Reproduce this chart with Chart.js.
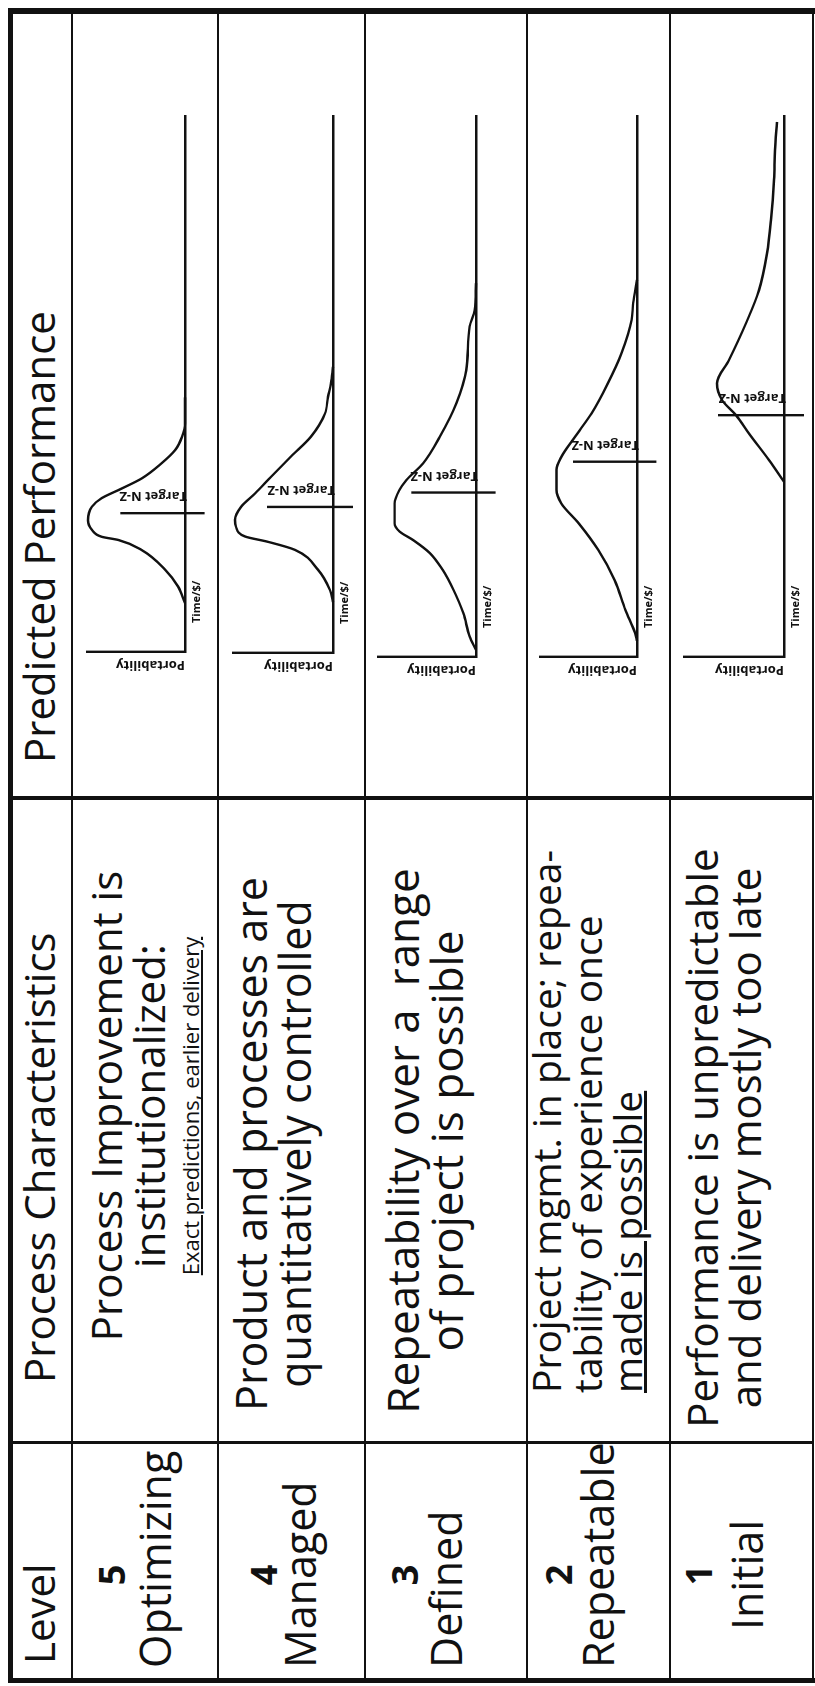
<!DOCTYPE html>
<html>
<head>
<meta charset="utf-8">
<title>Process maturity levels</title>
<script src="https://cdn.jsdelivr.net/npm/chart.js@4.4.1/dist/chart.umd.min.js"></script>
<style>
  html, body { margin: 0; padding: 0; background: #fff; }
  body { width: 815px; height: 1686px; position: relative; overflow: hidden; font-family: "Open Sans", sans-serif; color: #111; }
  /* the table is laid out landscape and turned a quarter left */
  #sheet { position: absolute; left: 0; top: 0; width: 1686px; height: 815px; transform-origin: 0 0; transform: translateY(1686px) rotate(-90deg); }
  .rule { position: absolute; background: #111; }
  .txt { position: absolute; white-space: pre; }
  canvas { position: absolute; }
</style>
</head>
<body>
<div id="sheet"></div>
<script>
// table text
const headers = ["Level", "Process Characteristics", "Predicted Performance"];
const levels = ["5", "4", "3", "2", "1"];
const levelNames = ["Optimizing", "Managed", "Defined", "Repeatable", "Initial"];
const characteristics = [
  ["Process Improvement is", "institutionalized:", "Exact predictions, earlier delivery"],
  ["Product and processes are", "quantitatively controlled"],
  ["Repeatability over a  range", "of project is possible"],
  ["Project mgmt. in place; repea-", "tability of experience once", "made is possible"],
  ["Performance is unpredictable", "and delivery mostly too late"]
];

// chart labels
const xAxisLabel = "Time/$/";
const yAxisLabel = "Portability";
const targetLabel = "Target N-Z";

// curves: time along the axis (0-100), portability (0-100)
const time5 = [9.1, 12.2, 15.3, 19.0, 20.9, 21.5, 22.8, 24.6, 27.1, 28.7, 30.2, 32.4, 35.2, 37.7, 40.2, 42.7, 47.5];
const port5 = [0, 7, 20, 44, 68, 85, 95, 99, 95, 85, 68, 44, 24, 10, 3, 0, 0];
const time4 = [9.5, 11.7, 15.5, 19.2, 20.7, 21.7, 23.5, 24.8, 27.2, 29.7, 32.8, 36.6, 40.3, 44.6, 47.7, 50.2, 53.3];
const port4 = [0, 3, 15, 38, 65, 88, 97, 98, 92, 78, 62, 42, 22, 8, 5, 2, 0];
const time3 = [1.3, 3.8, 8.1, 12.4, 16.1, 19.2, 21.6, 23.2, 24.7, 28.4, 30.9, 32.7, 35.8, 40.7, 46.9, 53.0, 61.1, 64.1, 69.1];
const port3 = [0, 6.5, 13, 23, 34, 47, 64, 78, 83, 83, 78, 71, 54, 37, 20, 10, 6.5, 1.3, 0];
const time2 = [3.0, 4.4, 8.7, 14.2, 19.8, 24.7, 28.4, 30.9, 34.6, 37.0, 40.7, 45.0, 50.6, 56.1, 62.3, 65.4, 69.7];
const port2 = [0, 2, 12, 23, 40, 60, 78, 83, 83, 78, 64, 47, 30, 16, 5.5, 4, 0];
const time1 = [32.4, 36.4, 41.3, 44.7, 47.5, 50.6, 54.9, 61.7, 67.8, 74.6, 80.8, 88.2, 93.7, 98.9];
const port1 = [0, 15, 35, 48, 62, 67, 55, 38, 25, 17, 13, 10, 9, 7];
const times = [time5, time4, time3, time2, time1];
const ports = [port5, port4, port3, port2, port1];

// target marker per level, on the time axis
const targets = [25.9, 27.2, 30.4, 36.1, 44.7];
const targetLow = -20;
const targetHigh = 66;

// ---- layout (landscape coordinates) ----
const sheet = document.getElementById("sheet");
const rowEdges = [72, 218, 365, 527, 670, 813];
const colEdges = [8, 243, 888, 1672];
const axisEnd = 1570;
const frames = [
  { origin: 1034, top: 87, base: 185 },
  { origin: 1033, top: 233, base: 333 },
  { origin: 1029, top: 378, base: 476 },
  { origin: 1029, top: 540, base: 637 },
  { origin: 1029, top: 684, base: 784 }
];

function rule(l, t, w, h) {
  const d = document.createElement("div");
  d.className = "rule";
  d.style.left = l + "px";
  d.style.top = t + "px";
  d.style.width = w + "px";
  d.style.height = h + "px";
  sheet.appendChild(d);
}

// put a line of text so that its baseline sits at `base`
function text(str, u, base, size, opts) {
  opts = opts || {};
  const d = document.createElement("div");
  d.className = "txt";
  d.textContent = str;
  d.style.fontSize = size + "px";
  d.style.lineHeight = (size * 1.362) + "px";
  d.style.top = (base - size * 1.069) + "px";
  if (opts.bold) d.style.fontWeight = "700";
  if (opts.underline) d.style.textDecoration = "underline";
  if (opts.center) {
    d.style.left = (u - 400) + "px";
    d.style.width = "800px";
    d.style.textAlign = "center";
  } else {
    d.style.left = u + "px";
  }
  sheet.appendChild(d);
}

// headers
text(headers[0], 22, 55, 42);
text(headers[1], 303, 55, 42);
text(headers[2], 923, 55, 42);

// level column
const numBase = [125, 277, 418, 572, 712];
const nameBase = [172, 317, 463, 615, 764];
levels.forEach((lv, i) => {
  text(lv, 111, numBase[i], 36, { bold: true, center: true });
  if (i === 4) text(levelNames[i], 111, nameBase[i], 43, { center: true });
  else text(levelNames[i], 18, nameBase[i], 43);
});

// characteristics column
const charBase = [[122, 165, 200], [268, 312], [420, 464], [561, 602, 642], [718, 761]];
const charSize = [[42, 42, 22], [43, 43], [44, 44], [39, 39, 39], [42, 42]];
const charCenter = [580, 542, 545, 0, 548];
characteristics.forEach((lines, i) => {
  lines.forEach((ln, k) => {
    const under = (i === 0 && k === 2) || (i === 3 && k === 2);
    if (i === 3) text(ln, 293, charBase[i][k], charSize[i][k], { underline: under });
    else text(ln, charCenter[i], charBase[i][k], charSize[i][k], { center: true, underline: under });
  });
});

// labels drawn beside the axes of each small chart
const chartLabels = {
  id: "chartLabels",
  afterDatasetsDraw(chart, args, opts) {
    const { ctx, chartArea, scales } = chart;
    const x0 = chartArea.left;
    const y0 = chartArea.bottom;
    const tx = scales.x.getPixelForValue(opts.target);
    ctx.save();
    ctx.fillStyle = "#111";
    ctx.textBaseline = "middle";
    ctx.textAlign = "left";

    ctx.font = "bold 11px 'Open Sans'";
    ctx.fillText(xAxisLabel, x0 + 29, y0 + 12);

    ctx.font = "bold 13px 'Open Sans'";
    ctx.save();
    ctx.translate(x0 - 13, y0);
    ctx.rotate(-Math.PI / 2);
    ctx.fillText(yAxisLabel, 0, 0);
    ctx.restore();

    ctx.save();
    ctx.translate(tx + 17, y0 + 2);
    ctx.rotate(-Math.PI / 2);
    ctx.fillText(targetLabel, 0, 0);
    ctx.restore();
    ctx.restore();
  }
};

function axis() {
  return {
    type: "linear",
    min: 0,
    max: 100,
    grid: { display: false, drawTicks: false, tickLength: 0 },
    ticks: { display: false },
    border: { display: true, color: "#111", width: 2.4 }
  };
}

function makeChart(i) {
  const top = rowEdges[i];
  const bottom = rowEdges[i + 1];
  const f = frames[i];
  const cv = document.createElement("canvas");
  cv.width = colEdges[3] - colEdges[2];
  cv.height = bottom - top;
  cv.style.left = colEdges[2] + "px";
  cv.style.top = top + "px";
  sheet.appendChild(cv);

  const curve = times[i].map((t, k) => ({ x: t, y: ports[i][k] }));
  const mark = [{ x: targets[i], y: targetLow }, { x: targets[i], y: targetHigh }];

  new Chart(cv, {
    type: "line",
    data: {
      datasets: [
        { data: curve, borderColor: "#111", borderWidth: 2.4, pointRadius: 0, cubicInterpolationMode: "monotone", clip: false },
        { data: mark, borderColor: "#111", borderWidth: 2.4, pointRadius: 0, clip: false }
      ]
    },
    options: {
      responsive: false,
      animation: false,
      events: [],
      layout: {
        padding: {
          left: f.origin - colEdges[2],
          right: colEdges[3] - axisEnd,
          top: f.top - top,
          bottom: bottom - f.base
        }
      },
      plugins: {
        legend: { display: false },
        tooltip: { enabled: false },
        chartLabels: { target: targets[i] }
      },
      scales: { x: axis(), y: axis() }
    },
    plugins: [chartLabels]
  });
}

for (let i = 0; i < 5; i++) makeChart(i);

// table rules
rule(3, 8, 1675, 5);          // left edge of the page
rule(3, 8, 5, 807);           // bottom edge
rule(1672, 8, 6, 807);        // top edge
rule(3, 812, 1675, 2);        // right edge
rowEdges.slice(0, 5).forEach((v) => rule(8, v - 1, 1664, 2));
rule(colEdges[1] - 1.5, 13, 3, 800);
rule(colEdges[2] - 2, 13, 4, 800);
</script>
</body>
</html>
